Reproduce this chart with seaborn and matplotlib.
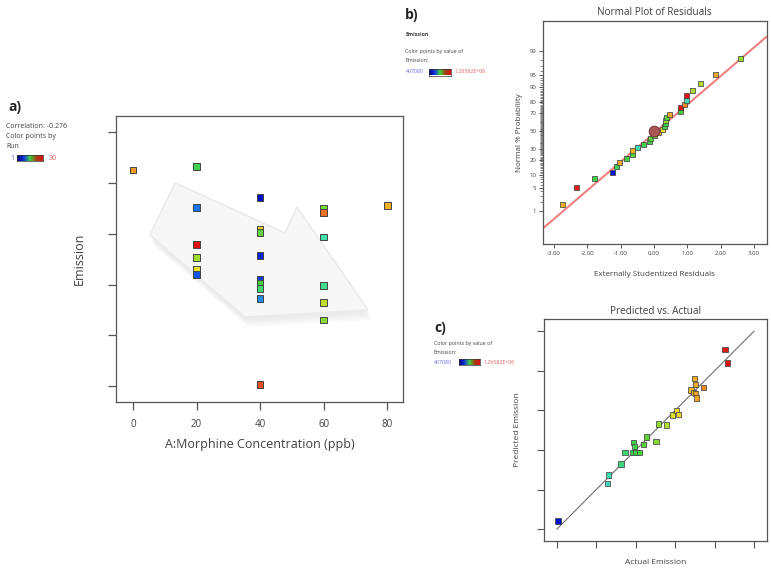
import numpy as np
import pandas as pd
import matplotlib
matplotlib.use("Agg")
import matplotlib.pyplot as plt
import seaborn as sns
from matplotlib.colors import LinearSegmentedColormap
from matplotlib.patches import Polygon
from statistics import NormalDist

# ---------------- data ----------------
# Panel a: Emission vs morphine concentration, coloured by run
conc_a = [0, 20, 20, 20, 20, 20, 20, 40, 40, 40, 40, 40, 40, 40, 40, 40, 60, 60, 60, 60, 60, 60, 80]
emission_a = [1251000, 1265820, 1102000, 959000, 905000, 860000, 840000,
              1143000, 1019000, 1004000, 914000, 821000, 805000, 784000, 744000, 407080,
              1101000, 1085000, 987000, 796000, 729000, 660000, 1110000]
run_a = [25, 14, 5, 30, 19, 21, 4, 1, 22, 16, 2, 3, 15, 13, 6, 28, 17, 27, 10, 11, 20, 18, 24]
conc_ticks = [0, 20, 40, 60, 80]
emission_ticks = [400000, 600000, 800000, 1000000, 1200000, 1400000]

# Panel b: normal plot of residuals
resid_b = [-2.74, -2.33, -1.79, -1.26, -1.12, -1.03, -0.84, -0.65, -0.64, -0.49,
           -0.31, -0.14, -0.12, 0.01, 0.14, 0.25, 0.30, 0.33, 0.33, 0.37,
           0.47, 0.78, 0.78, 0.91, 0.96, 0.97, 1.14, 1.40, 1.85, 2.58]
prob_b = [1.7, 5.0, 8.3, 11.7, 15.0, 18.3, 21.7, 25.0, 28.3, 31.7,
          35.0, 38.3, 41.7, 45.0, 48.3, 51.7, 55.0, 58.3, 61.7, 65.0,
          68.3, 71.7, 75.0, 78.3, 81.7, 85.0, 88.3, 91.7, 95.0, 98.3]
emis_b = [1090000, 1250000, 800000, 410000, 780000, 1100000, 810000, 830000, 1090000, 660000,
          790000, 800000, 840000, 860000, 1080000, 1000000, 800000, 790000, 930000, 840000,
          1100000, 810000, 1266000, 1140000, 660000, 1260000, 950000, 960000, 1100000, 930000]
highlight_resid = [0.0]
highlight_prob = [50.0]
fit_resid = [-3.34, 3.38]
fit_prob = [0.23, 99.70]
prob_ticks = [1, 5, 10, 20, 30, 50, 70, 80, 90, 95, 99]
resid_ticks = [-3, -2, -1, 0, 1, 2, 3]

# Panel c: predicted vs actual
actual_c = [407080, 658000, 662000, 726000, 746000, 783000, 802000, 819000, 789000, 794000,
            839000, 856000, 903000, 915000, 957000, 986000, 1006000, 1018000, 1081000, 1093000,
            1103000, 1098000, 1104000, 1109000, 1143000, 1253000, 1265820]
predicted_c = [442000, 632000, 674000, 730000, 789000, 789000, 789000, 789000, 838000, 819000,
               829000, 866000, 844000, 932000, 927000, 977000, 999000, 979000, 1104000, 1092000,
               1087000, 1161000, 1132000, 1062000, 1117000, 1309000, 1240000]
emis_min, emis_max = 407080, 1265820

# ---------------- style ----------------
sns.set_style("white")
plt.rcParams['font.family'] = ['Open Sans', 'DejaVu Sans']
TXT = '#404040'
SPINE = '#555555'

cmap = LinearSegmentedColormap.from_list('de', [
    (0.00, '#0010c8'), (0.15, '#1e78f0'), (0.30, '#40e0b0'), (0.47, '#40d040'),
    (0.62, '#a0dc30'), (0.70, '#f0e020'), (0.80, '#f0b020'), (0.90, '#f07020'),
    (1.00, '#e01010')])
legend_cmap = LinearSegmentedColormap.from_list('leg', [
    (0.0, '#000070'), (0.25, '#1030e0'), (0.5, '#40d040'), (0.75, '#a04010'), (1.0, '#e01010')])

W, H = 771, 570
fig = plt.figure(figsize=(W / 100, H / 100), dpi=100)


def ax_rect(x0, y0, x1, y1):
    return [x0 / W, 1 - y1 / H, (x1 - x0) / W, (y1 - y0) / H]


def ftext(x, y, s, **kw):
    kw.setdefault('color', TXT)
    kw.setdefault('va', 'center')
    fig.text(x / W, 1 - y / H, s, **kw)


def style_spines(ax):
    for sp in ax.spines.values():
        sp.set_color(SPINE)
        sp.set_linewidth(0.9)


def gradient_bar(x0, y0, x1, y1):
    cax = fig.add_axes(ax_rect(x0, y0, x1, y1))
    cax.imshow(np.linspace(0, 1, 256)[None, :], aspect='auto', cmap=legend_cmap)
    cax.set_xticks([]); cax.set_yticks([])
    for sp in cax.spines.values():
        sp.set_color('#333333'); sp.set_linewidth(0.5)


# ---------------- panel a ----------------
axa = fig.add_axes(ax_rect(116, 116, 403, 402))
df_a = pd.DataFrame({'conc': conc_a, 'emission': emission_a, 'run': run_a})
# decorative arrow with soft shadow
arrow_pts = [(0.206, 0.766), (0.589, 0.591), (0.631, 0.682), (0.878, 0.322), (0.449, 0.297), (0.118, 0.584)]
for k in range(1, 7):
    sh = [(x + 0.002 * k, y - 0.006 * k) for x, y in arrow_pts]
    axa.add_patch(Polygon(sh, closed=True, transform=axa.transAxes, facecolor='#c8c8c8',
                          edgecolor='none', alpha=0.07, zorder=1))
axa.add_patch(Polygon(arrow_pts, closed=True, transform=axa.transAxes, facecolor='#f7f7f7',
                      edgecolor='#ebebeb', linewidth=1.2, zorder=1.5))
sns.scatterplot(data=df_a, x='conc', y='emission', hue='run', palette=cmap, hue_norm=(1, 30),
                marker='s', s=24, edgecolor='#444444', linewidth=0.7, legend=False, ax=axa, zorder=3)
axa.set_xlim(-5.35, 85.0)
axa.set_ylim(337000, 1464000)
axa.set_xticks(conc_ticks)
axa.set_xticklabels([str(v) for v in conc_ticks], fontsize=7, color=TXT)
axa.set_yticks(emission_ticks)
axa.set_yticklabels([])
axa.tick_params(axis='both', direction='out', length=6, width=0.9, color=SPINE, bottom=True, left=True, pad=6)
axa.set_xlabel('A:Morphine Concentration (ppb)', fontsize=9, color=TXT, labelpad=6)
axa.set_ylabel('Emission', fontsize=9, color=TXT, labelpad=10)
style_spines(axa)

ftext(8, 107, 'a)', fontsize=10, fontweight='bold', color='#222222')
ftext(6, 126, 'Correlation: -0.276', fontsize=5)
ftext(6, 136, 'Color points by', fontsize=5)
ftext(6, 146, 'Run', fontsize=5)
ftext(10, 158, '1', fontsize=5, color='#6a6ae0')
gradient_bar(17, 155, 43, 161)
ftext(49, 158, '30', fontsize=5, color='#e06060')

# ---------------- panel b ----------------
nd = NormalDist()
axb = fig.add_axes(ax_rect(542.7, 20.7, 766.7, 244.3))
df_b = pd.DataFrame({'resid': resid_b, 'z': [nd.inv_cdf(p / 100) for p in prob_b], 'emis': emis_b})
axb.plot(fit_resid, [nd.inv_cdf(p / 100) for p in fit_prob], color='#f08080', linewidth=1.5, zorder=2)
sns.scatterplot(data=df_b, x='resid', y='z', hue='emis', palette=cmap, hue_norm=(emis_min, emis_max),
                marker='s', s=13, edgecolor='#444444', linewidth=0.55, legend=False, ax=axb, zorder=3)
axb.scatter(highlight_resid, [nd.inv_cdf(p / 100) for p in highlight_prob], s=60,
            color='#a85656', edgecolor='#6a3030', linewidth=0.6, zorder=4)
axb.set_xlim(-3.34, 3.38)
axb.set_ylim(-3.29, 3.21)
axb.set_xticks(resid_ticks)
axb.set_xticklabels([f'{v:.2f}' for v in resid_ticks], fontsize=4.3, color=TXT)
axb.set_yticks([nd.inv_cdf(p / 100) for p in prob_ticks])
axb.set_yticklabels([str(p) for p in prob_ticks], fontsize=4.3, color=TXT)
minor_p = [p for p in range(1, 100) if p not in prob_ticks]
axb.set_yticks([nd.inv_cdf(p / 100) for p in minor_p], minor=True)
axb.tick_params(axis='both', which='major', direction='out', length=3, width=0.7, color=SPINE,
                bottom=True, left=True, pad=1.5)
axb.tick_params(axis='y', which='minor', direction='out', length=2, width=0.5, color=SPINE, left=True)
axb.set_title('Normal Plot of Residuals', fontsize=7.2, color=TXT, pad=4)
axb.set_xlabel('Externally Studentized Residuals', fontsize=5.8, color=TXT, labelpad=11)
axb.set_ylabel('Normal % Probability', fontsize=5.8, color=TXT, labelpad=5)
style_spines(axb)

ftext(405, 15, 'b)', fontsize=10, fontweight='bold', color='#222222')
ftext(405, 35, 'Emission', fontsize=3.8, fontweight='bold')
ftext(405, 52, 'Color points by value of', fontsize=3.8)
ftext(405, 61, 'Emission:', fontsize=3.8)
ftext(406, 72, '407080', fontsize=3.8, color='#6a6ae0')
gradient_bar(429, 69, 451, 75.5)
ftext(455, 72, '1.26582E+06', fontsize=3.8, color='#e06060')

# ---------------- panel c ----------------
axc = fig.add_axes(ax_rect(544.3, 319.3, 766.7, 540.7))
df_c = pd.DataFrame({'actual': actual_c, 'predicted': predicted_c})
axc.plot([emission_ticks[0], emission_ticks[-1]], [emission_ticks[0], emission_ticks[-1]],
         color='#707070', linewidth=0.8, zorder=2)
sns.scatterplot(data=df_c, x='actual', y='predicted', hue='actual', palette=cmap,
                hue_norm=(emis_min, emis_max), marker='s', s=15, edgecolor='#444444',
                linewidth=0.55, legend=False, ax=axc, zorder=3)
axc.set_xlim(337200, 1464000)
axc.set_ylim(342400, 1460000)
axc.set_xticks(emission_ticks)
axc.set_yticks(emission_ticks)
axc.set_xticklabels([]); axc.set_yticklabels([])
axc.tick_params(axis='both', direction='out', length=5, width=0.8, color=SPINE, bottom=True, left=True)
axc.set_title('Predicted vs. Actual', fontsize=7.2, color=TXT, pad=4)
axc.set_xlabel('Actual Emission', fontsize=6, color=TXT, labelpad=5)
axc.set_ylabel('Predicted Emission', fontsize=6, color=TXT, labelpad=8)
style_spines(axc)

ftext(434, 328, 'c)', fontsize=10, fontweight='bold', color='#222222')
ftext(434, 344, 'Color points by value of', fontsize=3.8)
ftext(434, 352, 'Emission:', fontsize=3.8)
ftext(434, 362, '407080', fontsize=3.8, color='#6a6ae0')
gradient_bar(459, 358.5, 480, 365)
ftext(484, 362, '1.26582E+06', fontsize=3.8, color='#e06060')

fig.savefig('out.png', dpi=100)
